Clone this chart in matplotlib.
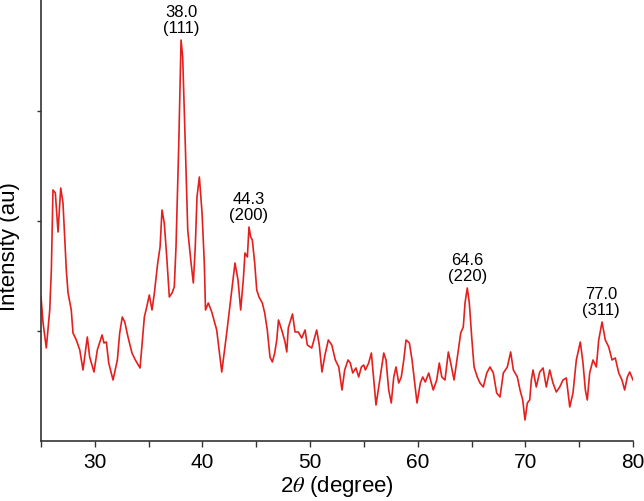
import numpy as np
import matplotlib.pyplot as plt
from matplotlib.ticker import MultipleLocator

plt.rcParams['font.family'] = ['Liberation Sans', 'DejaVu Sans']
plt.rcParams['mathtext.fontset'] = 'stix'

# XRD pattern (2theta in degrees, intensity in arbitrary units)
two_theta = [
    25.00, 25.19, 25.49, 25.81, 25.96, 26.11, 26.33, 26.58, 26.83, 27.04,
    27.35, 27.51, 27.81, 27.97, 28.28, 28.60, 28.90, 29.30, 29.52, 29.92,
    30.23, 30.67, 30.85, 31.07, 31.29, 31.69, 32.09, 32.31, 32.55, 32.78,
    33.08, 33.45, 33.76, 34.20,
    34.60, 34.82, 35.06, 35.31, 35.53, 35.84, 36.06, 36.24, 36.45, 36.68,
    36.92, 37.17, 37.38, 37.54, 37.79, 38.01, 38.16, 38.41, 38.63, 38.94,
    39.15, 39.33, 39.49, 39.71, 39.96, 40.17,
    40.28, 40.54, 40.86, 41.32, 41.79, 42.25, 42.72, 43.02, 43.30, 43.55,
    43.79, 43.95, 44.17, 44.32, 44.48, 44.63, 44.85, 45.04, 45.25, 45.56,
    45.78, 46.02, 46.27, 46.49, 46.71,
    46.90, 47.06, 47.36, 47.67, 47.83, 47.97, 48.36, 48.60, 48.90, 49.22,
    49.53, 49.74, 50.15, 50.61, 50.85, 51.10, 51.38, 51.69, 52.01,
    52.34, 52.66, 52.96, 53.21, 53.52, 53.73, 53.96, 54.26, 54.51, 54.76,
    54.98, 55.13, 55.44, 55.69, 55.91, 56.12, 56.43, 56.84, 57.05, 57.30,
    57.54, 57.77, 57.98, 58.23, 58.47, 58.70, 58.91, 59.22, 59.47, 59.72,
    59.93, 60.24, 60.46, 60.70, 61.02, 61.26,
    61.44, 61.76, 62.00, 62.23, 62.53, 62.84, 63.06, 63.37, 63.68, 63.99,
    64.23, 64.39, 64.60, 64.79, 65.01, 65.23, 65.53, 65.78, 66.09, 66.41,
    66.71, 67.02, 67.33, 67.64, 67.95, 68.32, 68.63, 68.88, 69.25, 69.50,
    69.75, 69.96, 70.18,
    70.40, 70.55, 70.71, 71.01, 71.33, 71.64, 71.94, 72.26, 72.56, 72.87,
    73.19, 73.49, 73.80, 74.12, 74.42, 74.73, 75.10, 75.35, 75.57, 75.75,
    75.97, 76.28, 76.59, 76.81, 77.12, 77.42, 77.74, 78.05, 78.35, 78.67,
    78.97, 79.22, 79.47, 79.69, 80.00,
]
intensity = [
    144, 118, 93, 131, 171, 251, 248, 209, 253, 238,
    171, 148, 131, 108, 101, 91, 71, 104, 84, 69,
    91, 106, 98, 99, 78, 61, 81, 108, 124, 119,
    104, 88, 81, 73,
    124, 134, 146, 131, 148, 178, 194, 231, 218, 184,
    144, 148, 154, 194, 294, 401, 384, 294, 211, 178,
    158, 194, 244, 264, 228, 178,
    131, 138, 129, 111, 69, 108, 151, 178, 161, 131,
    161, 188, 184, 214, 204, 201, 178, 151, 144, 138,
    128, 111, 84, 79, 88,
    101, 121, 111, 99, 89, 113, 127, 109, 109, 103,
    111, 96, 93, 111, 96, 69, 86, 101, 96,
    81, 74, 51, 71, 81, 78, 68, 73, 64, 74,
    76, 71, 78, 88, 61, 36, 58, 88, 81, 51,
    38, 64, 74, 58, 64, 81, 101, 98, 81, 58,
    38, 58, 64, 59, 68, 58,
    51, 61, 78, 64, 61, 89, 78, 61, 84, 108,
    114, 138, 153, 138, 104, 74, 64, 58, 54, 68,
    74, 68, 48, 44, 68, 74, 89, 71, 64, 51,
    41, 21, 38,
    41, 61, 71, 54, 69, 73, 54, 71, 58, 49,
    54, 61, 63, 34, 48, 81, 99, 78, 51, 41,
    68, 81, 74, 101, 119, 101, 94, 81, 83, 68,
    61, 51, 64, 69, 61,
]

peak_pos = [38.0, 44.3, 64.6, 77.0]
peak_hkl = ['(111)', '(200)', '(220)', '(311)']

x = np.array(two_theta)
y = np.array(intensity)

fig = plt.figure(figsize=(6.44, 5.01), dpi=100)
ax = fig.add_axes([0.0637, 0.1198, 0.9193, 0.8802])

ax.plot(x, y, color='#e3201e', linewidth=1.2)

for pos, hkl in zip(peak_pos, peak_hkl):
    near = np.abs(x - pos) < 0.5
    top = y[near].max()
    ax.annotate(f'{pos:.1f}\n{hkl}', xy=(pos, top), xytext=(0, 3),
                textcoords='offset points', ha='center', va='bottom',
                fontsize=12, linespacing=1.1)

ax.set_xlim(25, 80)
ax.set_ylim(0, 441)
ax.xaxis.set_major_locator(MultipleLocator(10))
ax.xaxis.set_minor_locator(MultipleLocator(5))
ax.set_yticks([110, 220, 330])
ax.set_yticklabels([])
ax.tick_params(axis='x', which='both', direction='out', length=4, width=1,
               labelsize=15, pad=5, color='#333333')
ax.tick_params(axis='y', direction='out', length=3, width=1, color='#333333')

for side in ['top', 'right']:
    ax.spines[side].set_visible(False)
for side in ['left', 'bottom']:
    ax.spines[side].set_color('#333333')
    ax.spines[side].set_linewidth(1.2)

ax.set_xlabel(r'2$\theta$ (degree)', fontsize=16, labelpad=1)
ax.set_ylabel('Intensity (au)', fontsize=16)
ax.yaxis.set_label_coords(-0.036, 0.44)

fig.savefig('out.png', dpi=100)
